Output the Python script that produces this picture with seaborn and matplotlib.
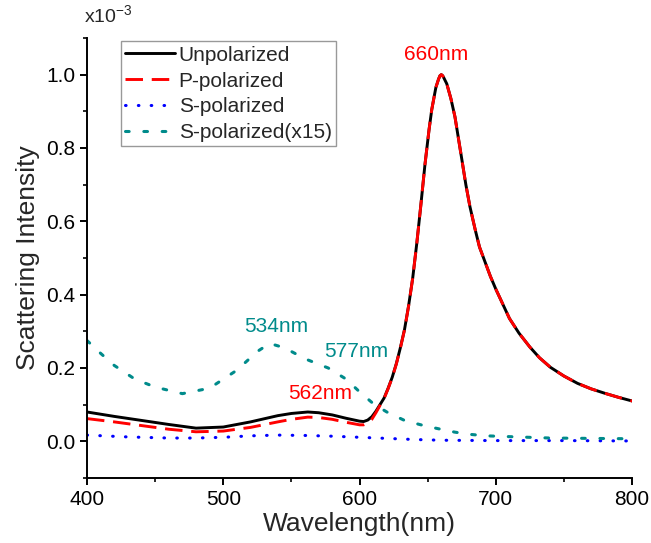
import numpy as np
import pandas as pd
import seaborn as sns
import matplotlib
matplotlib.use('Agg')
import matplotlib.pyplot as plt
from matplotlib.ticker import MultipleLocator, FormatStrFormatter

# Unpolarized / P-polarized (values in units of 1e-3)
wl_u = [400, 420, 440, 460, 480, 500, 520, 540, 550, 562, 570, 580, 590, 600, 603, 606, 609,
        612, 615, 618, 621, 624, 627, 630, 633, 636, 639, 642, 645, 648, 651, 653, 656, 658,
        659, 660, 661, 662, 664, 667, 670, 675, 678, 681, 685, 688, 692, 696, 700, 705, 710,
        717, 725, 732, 740, 750, 760, 770, 780, 790, 800]
unpol = [0.080, 0.068, 0.057, 0.046, 0.036, 0.039, 0.053, 0.070, 0.076, 0.080, 0.078, 0.072,
         0.063, 0.055, 0.054, 0.058, 0.067, 0.082, 0.100, 0.118, 0.145, 0.175, 0.212, 0.256,
         0.305, 0.370, 0.445, 0.540, 0.645, 0.755, 0.850, 0.905, 0.965, 0.988, 0.997, 1.000,
         0.997, 0.990, 0.975, 0.935, 0.885, 0.770, 0.700, 0.640, 0.575, 0.530, 0.490, 0.450,
         0.415, 0.375, 0.335, 0.295, 0.257, 0.228, 0.202, 0.178, 0.158, 0.143, 0.131, 0.120,
         0.110]
ppol = [0.062, 0.053, 0.043, 0.033, 0.026, 0.028, 0.038, 0.053, 0.060, 0.066, 0.065, 0.060,
        0.052, 0.045, 0.045, 0.050, 0.060, 0.078, 0.098, 0.117, 0.144, 0.174, 0.211, 0.255,
        0.304, 0.369, 0.445, 0.540, 0.645, 0.755, 0.850, 0.905, 0.965, 0.988, 0.997, 1.000,
        0.997, 0.990, 0.975, 0.935, 0.885, 0.770, 0.700, 0.640, 0.575, 0.530, 0.490, 0.450,
        0.415, 0.375, 0.335, 0.295, 0.257, 0.228, 0.202, 0.178, 0.158, 0.143, 0.131, 0.120,
        0.110]

# S-polarized
wl_s = [400, 430, 460, 480, 500, 520, 540, 560, 580, 600, 620, 640, 660, 700, 750, 800]
spol = [0.017, 0.012, 0.009, 0.009, 0.011, 0.015, 0.017, 0.016, 0.014, 0.011, 0.008, 0.005,
        0.003, 0.002, 0.002, 0.001]

# S-polarized (x15)
wl_s15 = [400, 410, 420, 435, 450, 470, 490, 510, 525, 534, 545, 560, 577, 590, 600, 610, 620,
          633, 645, 657, 670, 681, 693, 716, 740, 770, 800]
spol15 = [0.275, 0.240, 0.207, 0.170, 0.148, 0.130, 0.145, 0.194, 0.245, 0.267, 0.255, 0.225,
          0.200, 0.170, 0.135, 0.103, 0.080, 0.057, 0.045, 0.035, 0.025, 0.019, 0.015, 0.012,
          0.009, 0.008, 0.007]

sns.set_style("ticks")
plt.rcParams['font.family'] = ['Liberation Sans', 'DejaVu Sans']
plt.rcParams['mathtext.fontset'] = 'custom'
plt.rcParams['mathtext.rm'] = 'Liberation Sans'

fig = plt.figure(figsize=(6.51, 5.43), dpi=100)
ax = fig.add_axes([0.1336, 0.1197, 0.8374, 0.8104])

lw = 2.1
teal = '#008B8B'
sns.lineplot(x=wl_u, y=unpol, ax=ax, color='black', linewidth=lw, label='Unpolarized')
sns.lineplot(x=wl_u, y=ppol, ax=ax, color='red', linewidth=lw, label='P-polarized',
             linestyle=(0, (6, 3)))
sns.lineplot(x=wl_s, y=spol, ax=ax, color='blue', linewidth=2.2, label='S-polarized',
             linestyle=(0, (0.2, 4.0)), dash_capstyle='round')
sns.lineplot(x=wl_s15, y=spol15, ax=ax, color=teal, linewidth=2.2,
             label='S-polarized(x15)', linestyle=(0, (1.2, 4.8)), dash_capstyle='round')

ax.set_xlim(400, 800)
ax.set_ylim(-0.1, 1.1)
ax.xaxis.set_major_locator(MultipleLocator(100))
ax.xaxis.set_minor_locator(MultipleLocator(50))
ax.yaxis.set_major_locator(MultipleLocator(0.2))
ax.yaxis.set_minor_locator(MultipleLocator(0.1))
ax.yaxis.set_major_formatter(FormatStrFormatter('%.1f'))
ax.tick_params(which='major', direction='out', length=5, width=1.4, labelsize=15, colors='black')
ax.tick_params(which='minor', direction='out', length=3, width=1.4)
for side in ['left', 'bottom']:
    ax.spines[side].set_linewidth(1.4)
    ax.spines[side].set_color('black')
sns.despine(ax=ax)

ax.set_xlabel('Wavelength(nm)', fontsize=19, labelpad=2)
ax.set_ylabel('Scattering Intensity', fontsize=19, labelpad=4)

ax.text(-0.005, 1.025, r'x10$^{-3}$', transform=ax.transAxes, fontsize=14, ha='left', va='bottom')

ax.text(656, 1.03, '660nm', color='red', fontsize=15, ha='center', va='bottom')
ax.text(571, 0.105, '562nm', color='red', fontsize=15, ha='center', va='bottom')
ax.text(539, 0.288, '534nm', color=teal, fontsize=15, ha='center', va='bottom')
ax.text(574, 0.22, '577nm', color=teal, fontsize=15, ha='left', va='bottom')

leg = ax.legend(loc='upper left', bbox_to_anchor=(0.063, 0.992), fontsize=15, frameon=True,
                fancybox=False, edgecolor='gray', handlelength=2.4, handletextpad=0.15,
                labelspacing=0.33, borderpad=0.2, borderaxespad=0)
leg.get_frame().set_linewidth(1.0)

fig.savefig('out.png', dpi=100)
